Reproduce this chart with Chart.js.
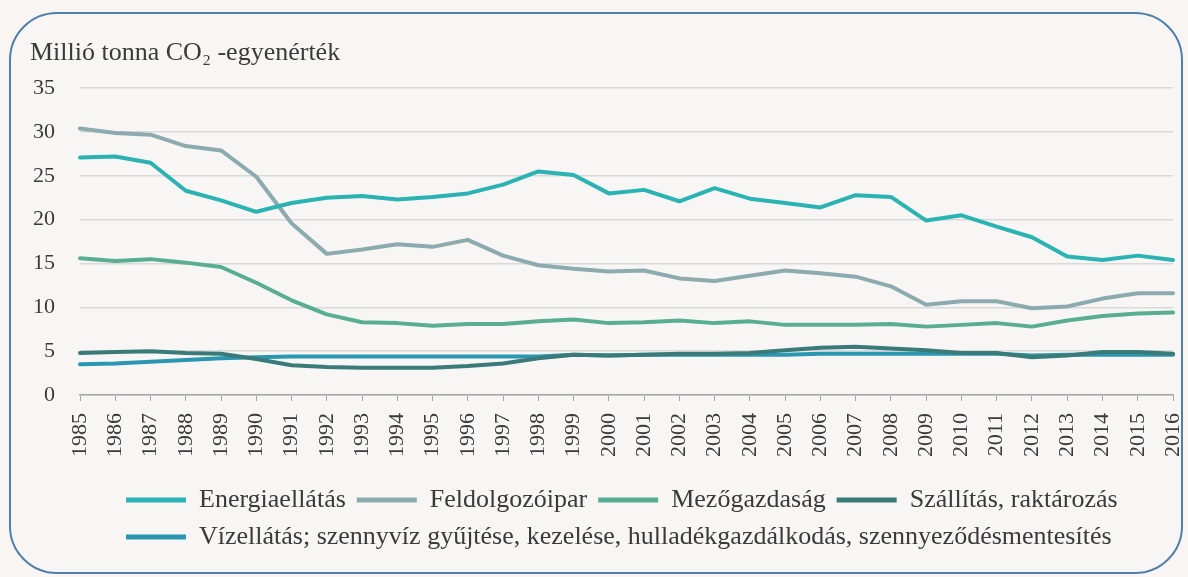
<!DOCTYPE html>
<html lang="hu">
<head>
<meta charset="utf-8">
<title>ÜHG-kibocsátás ágazatonként</title>
<script src="https://cdn.jsdelivr.net/npm/chart.js@4.4.1/dist/chart.umd.min.js"></script>
<style>
  html, body { margin: 0; padding: 0; background: #f8f5f2; }
  #wrap { position: relative; width: 1188px; height: 577px; }
  #frame {
    position: absolute; left: 9px; top: 12px; width: 1170px; height: 558px;
    border: 2px solid #4f80ad; border-radius: 48px; background: #f7f6f5;
  }
  #chart { position: absolute; left: 0; top: 0; }
</style>
</head>
<body>
<div id="wrap">
  <div id="frame"></div>
  <canvas id="chart" width="1188" height="577"></canvas>
</div>
<script>
// years on the x axis
const years = [1985, 1986, 1987, 1988, 1989, 1990, 1991, 1992, 1993, 1994, 1995, 1996,
  1997, 1998, 1999, 2000, 2001, 2002, 2003, 2004, 2005, 2006, 2007, 2008, 2009, 2010,
  2011, 2012, 2013, 2014, 2015, 2016];

// million tonnes CO2-equivalent
const energia = [27.1, 27.2, 26.5, 23.3, 22.2, 20.9, 21.9, 22.5, 22.7, 22.3, 22.6, 23.0,
  24.0, 25.5, 25.1, 23.0, 23.4, 22.1, 23.6, 22.4, 21.9, 21.4, 22.8, 22.6, 19.9, 20.5,
  19.2, 18.0, 15.8, 15.4, 15.9, 15.4];
const feldolgozo = [30.4, 29.9, 29.7, 28.4, 27.9, 24.9, 19.6, 16.1, 16.6, 17.2, 16.9, 17.7,
  15.9, 14.8, 14.4, 14.1, 14.2, 13.3, 13.0, 13.6, 14.2, 13.9, 13.5, 12.4, 10.3, 10.7,
  10.7, 9.9, 10.1, 11.0, 11.6, 11.6];
const mezogazdasag = [15.6, 15.3, 15.5, 15.1, 14.6, 12.8, 10.8, 9.2, 8.3, 8.2, 7.9, 8.1,
  8.1, 8.4, 8.6, 8.2, 8.3, 8.5, 8.2, 8.4, 8.0, 8.0, 8.0, 8.1, 7.8, 8.0,
  8.2, 7.8, 8.5, 9.0, 9.3, 9.4];
const szallitas = [4.8, 4.9, 5.0, 4.8, 4.7, 4.1, 3.4, 3.2, 3.1, 3.1, 3.1, 3.3,
  3.6, 4.2, 4.6, 4.5, 4.6, 4.7, 4.7, 4.8, 5.1, 5.4, 5.5, 5.3, 5.1, 4.8,
  4.8, 4.3, 4.5, 4.9, 4.9, 4.7];
const vizellatas = [3.5, 3.6, 3.8, 4.0, 4.2, 4.3, 4.4, 4.4, 4.4, 4.4, 4.4, 4.4,
  4.4, 4.4, 4.6, 4.5, 4.6, 4.6, 4.6, 4.6, 4.6, 4.7, 4.7, 4.7, 4.7, 4.7,
  4.7, 4.5, 4.6, 4.6, 4.6, 4.6];

const seriesNames = ['Energiaellátás', 'Feldolgozóipar', 'Mezőgazdaság', 'Szállítás, raktározás',
  'Vízellátás; szennyvíz gyűjtése, kezelése, hulladékgazdálkodás, szennyeződésmentesítés'];
const seriesColors = ['#2bb3b3', '#8dabaf', '#58ad93', '#3a7b79', '#2a96b1'];
const seriesValues = [energia, feldolgozo, mezogazdasag, szallitas, vizellatas];

const FONT = "'Liberation Serif', 'DejaVu Serif', serif";
const textColor = '#3a3a3a';

// legend rows start further right than the chart's own left edge
const legendShift = {
  id: 'legendShift',
  afterLayout(chart) {
    chart.legend.left = 115;
  }
};

new Chart(document.getElementById('chart'), {
  type: 'line',
  data: {
    labels: years,
    datasets: seriesNames.map((name, i) => ({
      label: name,
      data: seriesValues[i],
      borderColor: seriesColors[i],
      backgroundColor: seriesColors[i],
      borderWidth: 4,
      borderJoinStyle: 'round',
      borderCapStyle: 'round',
      pointRadius: 0,
      tension: 0,
      fill: false
    }))
  },
  options: {
    responsive: false,
    animation: false,
    layout: { padding: { top: 30, left: 30, right: 15, bottom: 17 } },
    plugins: {
      title: {
        display: true,
        text: 'Millió tonna CO₂ -egyenérték',
        align: 'start',
        color: textColor,
        font: { family: FONT, size: 26, weight: 'normal' },
        padding: { top: 8, bottom: 19 }
      },
      legend: {
        position: 'bottom',
        align: 'start',
        labels: {
          color: textColor,
          font: { family: FONT, size: 26 },
          boxWidth: 60,
          boxHeight: 5,
          padding: 11,
          generateLabels(chart) {
            return Chart.defaults.plugins.legend.labels.generateLabels(chart)
              .map(item => ({ ...item, lineWidth: 0 }));
          }
        }
      },
      tooltip: { enabled: false }
    },
    scales: {
      x: {
        type: 'category',
        offset: false,
        afterFit(scale) {
          scale.height = 81;
          scale.paddingLeft = 0;
          scale.paddingRight = 0;
        },
        grid: { drawOnChartArea: false, drawTicks: true, tickLength: 6, color: '#a6a6a6' },
        border: { display: true, color: '#a6a6a6', width: 1.5 },
        ticks: {
          autoSkip: false,
          minRotation: 90,
          maxRotation: 90,
          padding: 12,
          color: textColor,
          font: { family: FONT, size: 22 }
        }
      },
      y: {
        min: 0,
        max: 35,
        afterFit(scale) { scale.width = 50; },
        grid: { color: '#d9d9d9', lineWidth: 1.5, drawTicks: false },
        border: { display: false },
        ticks: {
          stepSize: 5,
          padding: 25,
          color: textColor,
          font: { family: FONT, size: 22 }
        }
      }
    }
  },
  plugins: [legendShift]
});
</script>
</body>
</html>
